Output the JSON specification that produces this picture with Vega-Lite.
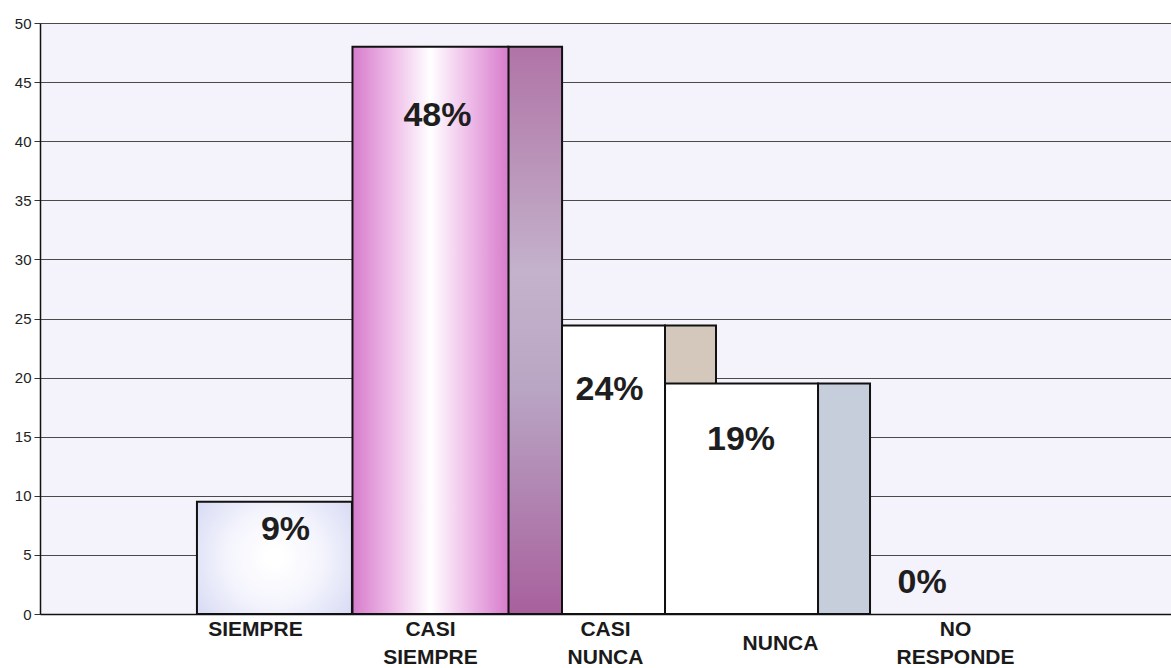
{
  "$schema": "https://vega.github.io/schema/vega-lite/v6.json",
  "width": 1131,
  "height": 591,
  "autosize": {"type": "none"},
  "padding": {"left": 40, "top": 23, "right": 0, "bottom": 54},
  "background": "white",
  "view": {"fill": "#f4f2fa", "stroke": null},
  "config": {"font": "Liberation Sans"},
  "data": {
    "values": [
      {"cat": "SIEMPRE", "value": 9.5, "label": "9%"},
      {"cat": "CASI SIEMPRE", "value": 48, "label": "48%"},
      {"cat": "CASI NUNCA", "value": 24.4, "label": "24%"},
      {"cat": "NUNCA", "value": 19.5, "label": "19%"},
      {"cat": "NO RESPONDE", "value": 0, "label": "0%"}
    ]
  },
  "encoding": {
    "x": {
      "field": "cat", "type": "nominal", "sort": null,
      "scale": {"domain": ["SIEMPRE", "CASI SIEMPRE", "CASI NUNCA", "NUNCA", "NO RESPONDE"], "paddingInner": 0, "paddingOuter": 0.731},
      "axis": {
        "title": null, "labelAngle": 0, "ticks": false, "grid": false,
        "domainColor": "#111", "domainWidth": 1.5,
        "labelFontSize": 21, "labelFontWeight": "bold", "labelColor": "#1a1a1a",
        "labelBaseline": "top", "labelLineHeight": 28,
        "labelPadding": {"condition": {"test": "datum.value == 'NUNCA'", "value": 18}, "value": 4},
        "labelExpr": "split(datum.value, ' ')"
      }
    },
    "y": {
      "field": "value", "type": "quantitative",
      "scale": {"domain": [0, 50], "nice": false},
      "axis": {
        "title": null, "values": [0, 5, 10, 15, 20, 25, 30, 35, 40, 45, 50],
        "grid": true, "gridColor": "#4a4a4a", "gridWidth": 1,
        "domainColor": "#111", "domainWidth": 1.5,
        "tickColor": "#333", "tickSize": 6, "labelPadding": 3,
        "labelFontSize": 15, "labelColor": "#222"
      }
    }
  },
  "layer": [
    {
      "transform": [{"filter": "datum.cat == 'SIEMPRE'"}],
      "mark": {"type": "bar", "width": 155, "xOffset": 19, "stroke": "#111", "strokeWidth": 2,
        "fill": {"gradient": "radial", "x1": 0.5, "y1": 0.5, "x2": 0.5, "y2": 0.5, "r1": 0.05, "r2": 0.7,
          "stops": [{"offset": 0, "color": "#ffffff"}, {"offset": 0.4, "color": "#f4f4fd"}, {"offset": 1, "color": "#cfd3f1"}]}}
    },
    {
      "transform": [{"filter": "datum.cat == 'CASI SIEMPRE'"}],
      "mark": {"type": "bar", "width": 54, "xOffset": 104.6, "stroke": "#111", "strokeWidth": 2,
        "fill": {"gradient": "linear", "x1": 0, "y1": 0, "x2": 0, "y2": 1,
          "stops": [{"offset": 0, "color": "#b074a6"}, {"offset": 0.4, "color": "#c4b2cc"}, {"offset": 0.6, "color": "#b9a6c4"}, {"offset": 1, "color": "#a8609d"}]}}
    },
    {
      "transform": [{"filter": "datum.cat == 'CASI SIEMPRE'"}],
      "mark": {"type": "bar", "width": 156, "xOffset": 0, "stroke": "#111", "strokeWidth": 2,
        "fill": {"gradient": "linear", "x1": 0, "y1": 0, "x2": 1, "y2": 0,
          "stops": [{"offset": 0, "color": "#d77ccb"}, {"offset": 0.25, "color": "#eebbe8"}, {"offset": 0.5, "color": "#ffffff"}, {"offset": 0.75, "color": "#eebbe8"}, {"offset": 1, "color": "#d77ccb"}]}}
    },
    {
      "transform": [{"filter": "datum.cat == 'CASI NUNCA'"}],
      "mark": {"type": "bar", "width": 51, "xOffset": 85, "stroke": "#111", "strokeWidth": 2, "fill": "#d3c8bb"}
    },
    {
      "transform": [{"filter": "datum.cat == 'CASI NUNCA'"}],
      "mark": {"type": "bar", "width": 103, "xOffset": 8, "stroke": "#111", "strokeWidth": 2, "fill": "#ffffff"}
    },
    {
      "transform": [{"filter": "datum.cat == 'NUNCA'"}],
      "mark": {"type": "bar", "width": 52, "xOffset": 63.5, "stroke": "#111", "strokeWidth": 2, "fill": "#c6cddb"}
    },
    {
      "transform": [{"filter": "datum.cat == 'NUNCA'"}],
      "mark": {"type": "bar", "width": 153, "xOffset": -39, "stroke": "#111", "strokeWidth": 2, "fill": "#ffffff"}
    },
    {
      "transform": [{"filter": "datum.cat == 'SIEMPRE'"}],
      "mark": {"type": "text", "fontSize": 34, "fontWeight": "bold", "color": "#1e1e1e", "baseline": "middle", "dx": 30, "dy": 28},
      "encoding": {"text": {"field": "label"}}
    },
    {
      "transform": [{"filter": "datum.cat == 'CASI SIEMPRE'"}],
      "mark": {"type": "text", "fontSize": 34, "fontWeight": "bold", "color": "#1e1e1e", "baseline": "middle", "dx": 7, "dy": 69},
      "encoding": {"text": {"field": "label"}}
    },
    {
      "transform": [{"filter": "datum.cat == 'CASI NUNCA'"}],
      "mark": {"type": "text", "fontSize": 34, "fontWeight": "bold", "color": "#1e1e1e", "baseline": "middle", "dx": 4, "dy": 64},
      "encoding": {"text": {"field": "label"}}
    },
    {
      "transform": [{"filter": "datum.cat == 'NUNCA'"}],
      "mark": {"type": "text", "fontSize": 34, "fontWeight": "bold", "color": "#1e1e1e", "baseline": "middle", "dx": -39.5, "dy": 56},
      "encoding": {"text": {"field": "label"}}
    },
    {
      "transform": [{"filter": "datum.cat == 'NO RESPONDE'"}],
      "mark": {"type": "text", "fontSize": 34, "fontWeight": "bold", "color": "#1e1e1e", "baseline": "middle", "dx": -33.5, "dy": -31},
      "encoding": {"text": {"field": "label"}}
    }
  ]
}
